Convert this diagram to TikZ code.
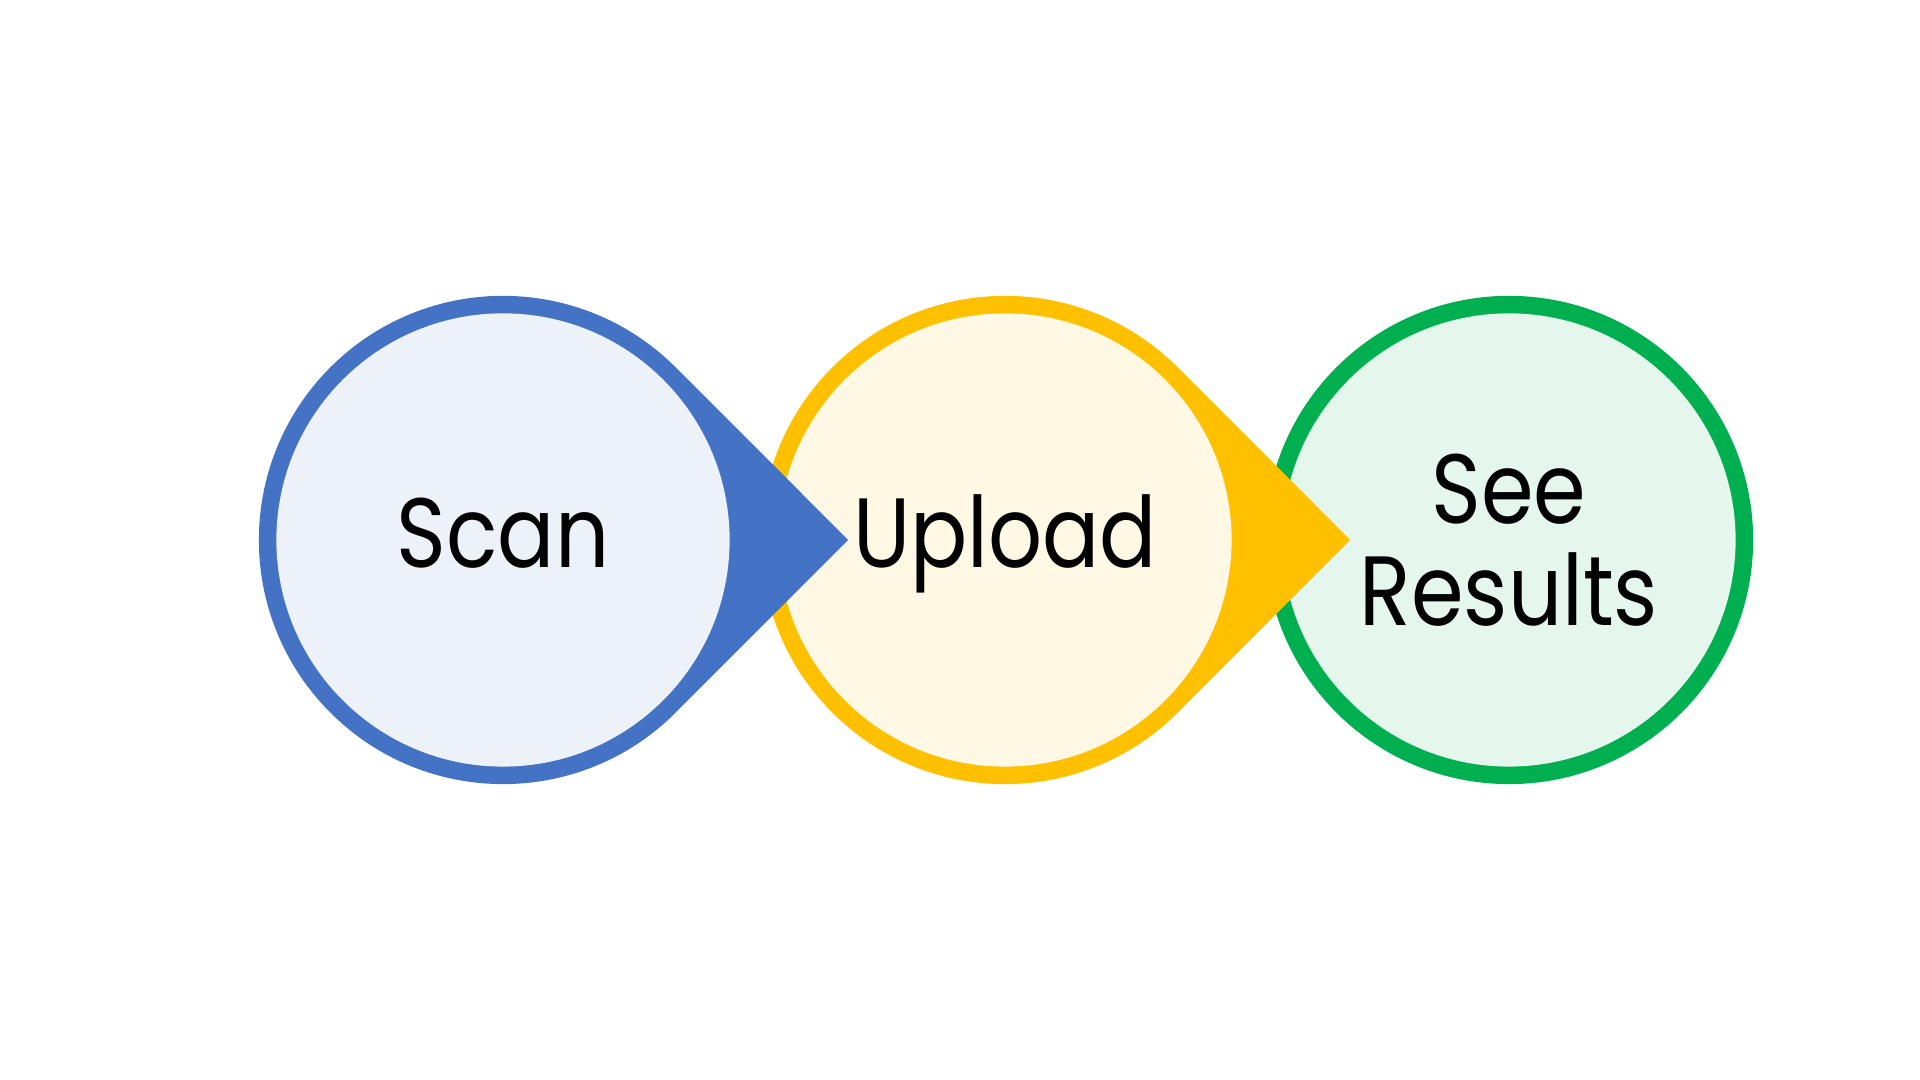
\documentclass[tikz,border=0pt]{standalone}
\usepackage{fontspec}
\setmainfont{Poppins}[FakeStretch=0.86]
\usetikzlibrary{positioning}

\definecolor{scanring}{HTML}{4472C4}
\definecolor{scanfill}{HTML}{EDF2F9}
\definecolor{uploadring}{HTML}{FFC000}
\definecolor{uploadfill}{HTML}{FFF8E5}
\definecolor{resultring}{HTML}{00B050}
\definecolor{resultfill}{HTML}{E5F6EC}

\begin{document}
\begin{tikzpicture}[x=0.01cm, y=0.01cm,
        stage/.style={circle, minimum size=4.53cm, inner sep=0pt, align=center,
            font=\fontsize{28}{29}\selectfont},
        oneline/.style={text height=0.75cm, text depth=0.19cm}]

        \useasboundingbox (0,0) rectangle (1920,1080);

        \coordinate (c1) at (503,540);
        \coordinate (c2) at (1005,540);
        \coordinate (c3) at (1509,540);

        % last step first, so that each tip lies over the next ring
        \fill[resultring] (c3) circle[radius=2.44cm];
        \node[stage, fill=resultfill] (results) at (c3) {See\\Results};

        \fill[uploadring] ([shift={(45:2.44cm)}]c2) arc[start angle=45, end angle=315, radius=2.44cm]
            -- ([shift={(3.45cm,0)}]c2) coordinate (tip2) -- cycle;
        \node[stage, oneline, fill=uploadfill] (upload) at (c2) {Upload};

        \fill[scanring] ([shift={(45:2.44cm)}]c1) arc[start angle=45, end angle=315, radius=2.44cm]
            -- ([shift={(3.45cm,0)}]c1) coordinate (tip1) -- cycle;
        \node[stage, oneline, fill=scanfill] (scan) at (c1) {Scan};

    \end{tikzpicture}
\end{document}
